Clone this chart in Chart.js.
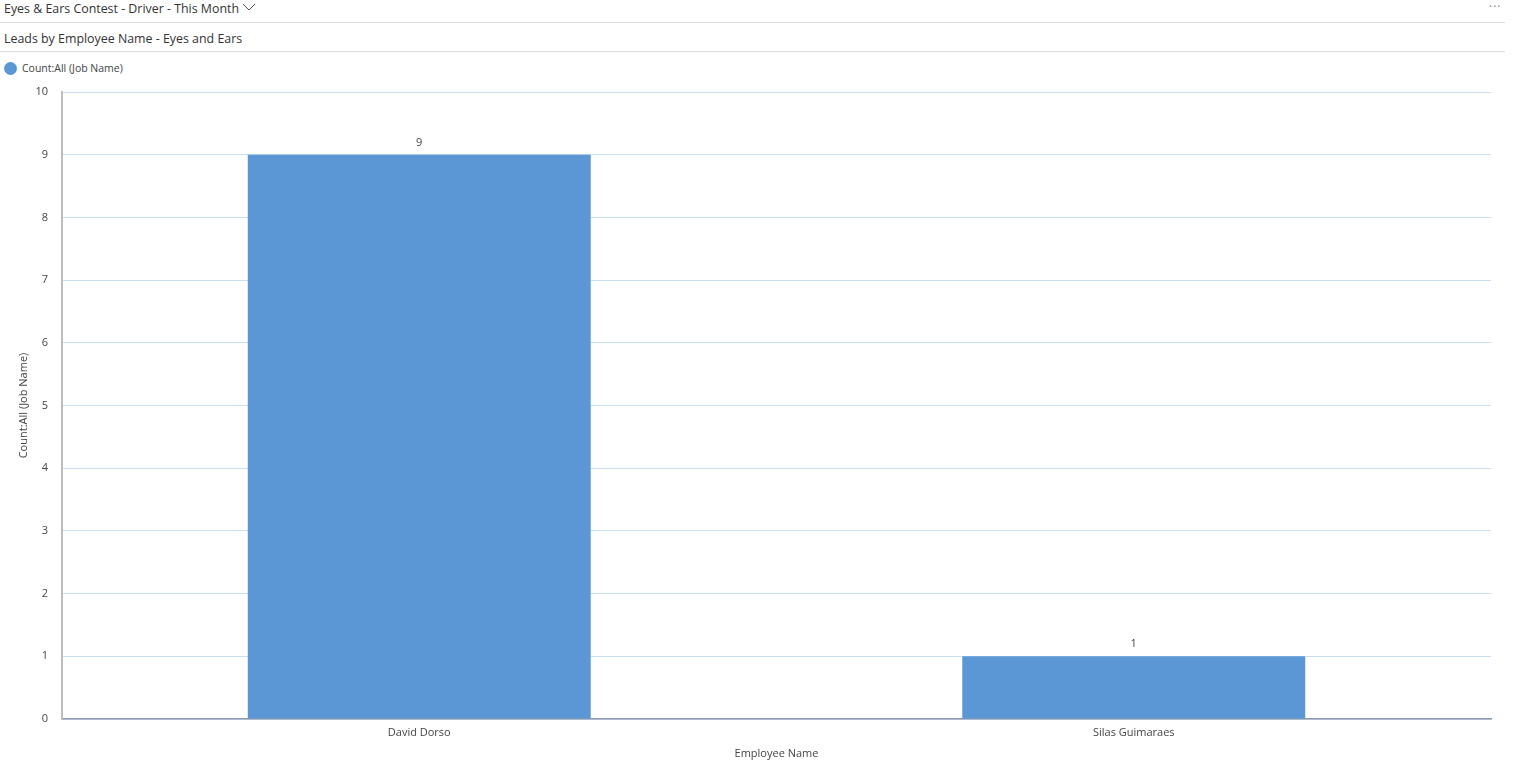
<!DOCTYPE html>
<html>
<head>
<meta charset="utf-8">
<script src="https://cdn.jsdelivr.net/npm/chart.js@4.4.1/dist/chart.umd.min.js"></script>
<style>
  html, body { margin:0; padding:0; background:#fff; width:1519px; height:765px; overflow:hidden; font-family:"Open Sans", "Noto Sans", sans-serif; }
  #hdr { position:absolute; left:4px; top:0px; font-size:12.4px; color:#333; }
  #chev { position:absolute; left:242px; top:2px; }
  #dots { position:absolute; left:1489px; top:-2px; font-size:12px; color:#888; letter-spacing:1px; }
  .rule { position:absolute; left:0; width:1505px; height:1px; background:#dcdcdc; }
  #sub { position:absolute; left:4px; top:30px; font-size:12.4px; color:#333; }
  #leg { position:absolute; left:4px; top:61px; font-size:10.5px; color:#444; display:flex; align-items:center; }
  #leg span.dot { width:13px; height:13px; border-radius:50%; background:#5b97d5; display:inline-block; margin-right:5px; }
  #wrap { position:absolute; left:0; top:57px; width:1519px; height:708px; }
</style>
</head>
<body>
<div id="hdr">Eyes &amp; Ears Contest - Driver - This Month</div>
<svg id="chev" width="14" height="10"><polyline points="1,2 7,8 13,2" fill="none" stroke="#555" stroke-width="1"/></svg>
<div id="dots">···</div>
<div class="rule" style="top:22px"></div>
<div id="sub">Leads by Employee Name - Eyes and Ears</div>
<div class="rule" style="top:51px"></div>
<div id="leg"><span class="dot"></span><span id="legtxt"></span></div>
<div id="wrap"><canvas id="c" width="1519" height="708"></canvas></div>
<script>
const categories = ["David Dorso", "Silas Guimaraes"];
const seriesName = "Count:All (Job Name)";
const counts = [9, 1];
const yTicks = [0,1,2,3,4,5,6,7,8,9,10];
const xTitle = "Employee Name";
const yTitle = "Count:All (Job Name)";

document.getElementById('legtxt').textContent = seriesName;

const valueLabels = {
  id: 'valueLabels',
  afterDatasetsDraw(chart) {
    const ctx = chart.ctx;
    const meta = chart.getDatasetMeta(0);
    ctx.save();
    ctx.font = '11px "Open Sans", "Noto Sans", sans-serif';
    ctx.fillStyle = '#444';
    ctx.textAlign = 'center';
    ctx.textBaseline = 'middle';
    meta.data.forEach((bar, i) => {
      ctx.fillText(String(chart.data.datasets[0].data[i]), bar.x, bar.y - 12);
    });
    ctx.restore();
  }
};

new Chart(document.getElementById('c'), {
  type: 'bar',
  data: {
    labels: categories,
    datasets: [{
      label: seriesName,
      data: counts,
      backgroundColor: '#5b97d5',
      borderWidth: 0,
      barPercentage: 0.6,
      categoryPercentage: 0.8
    }]
  },
  options: {
    responsive: false,
    animation: false,
    devicePixelRatio: 1,
    layout: { padding: { left: 0, right: 28, top: 35, bottom: 0 } },
    plugins: { legend: { display: false }, tooltip: { enabled: false } },
    scales: {
      x: {
        grid: { display: false, drawTicks: false },
        border: { color: '#8f9aa8', width: 1.5 },
        ticks: { color: '#444', font: { size: 11, family: '"Open Sans", "Noto Sans", sans-serif' }, padding: 7, maxRotation: 0 },
        title: { display: true, text: xTitle, color: '#444', font: { size: 11, family: '"Open Sans", "Noto Sans", sans-serif' }, padding: { top: 0, bottom: 5 } },
        afterFit(s) { s.height = 46; }
      },
      y: {
        min: 0, max: 10,
        afterBuildTicks(s) { s.ticks = yTicks.map(v => ({ value: v })); },
        grid: { color: '#c9def5', lineWidth: 1, drawTicks: false },
        border: { color: '#bdbdbd', width: 2 },
        ticks: { color: '#444', font: { size: 11, family: '"Open Sans", "Noto Sans", sans-serif' }, padding: 14 },
        title: { display: true, text: yTitle, color: '#444', font: { size: 11, family: '"Open Sans", "Noto Sans", sans-serif' }, padding: { top: 17, bottom: 0 } },
        afterFit(s) { s.width = 62; }
      }
    }
  },
  plugins: [valueLabels]
});
</script>
</body>
</html>
